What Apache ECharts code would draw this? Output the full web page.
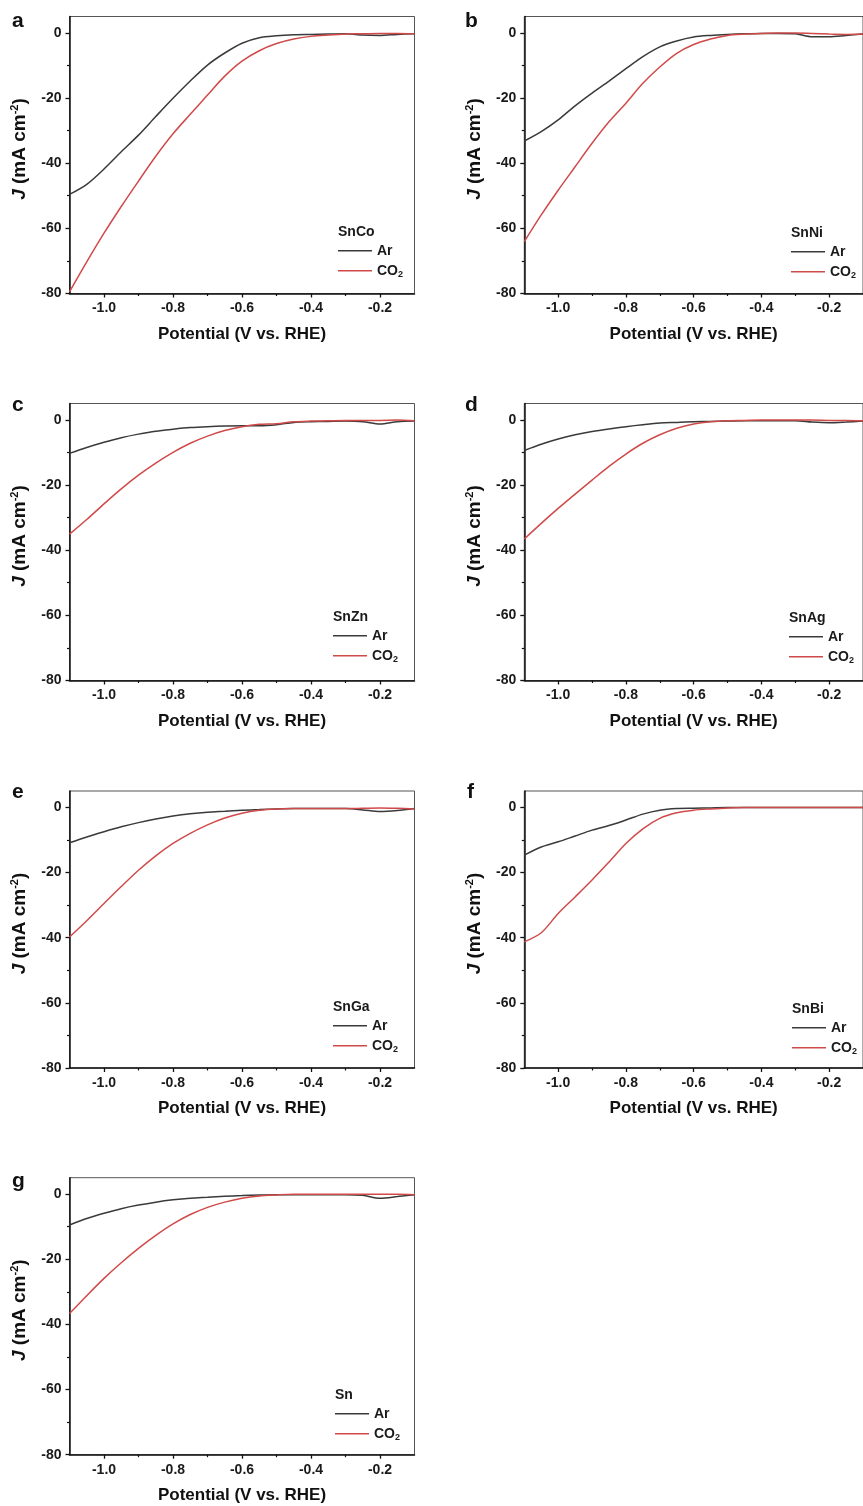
<!DOCTYPE html>
<html><head><meta charset="utf-8">
<script src="https://cdn.jsdelivr.net/npm/echarts@6/dist/echarts.min.js"></script>
<style>html,body{margin:0;padding:0;background:#fff}#c{width:863px;height:1506px}</style>
</head><body><div id="c"></div>
<script>
// ---------- data ----------
const potentials = [-1.10,-1.05,-1.00,-0.95,-0.90,-0.85,-0.80,-0.75,-0.70,-0.65,-0.60,-0.55,-0.50,-0.45,-0.40,-0.35,-0.30,-0.25,-0.20,-0.15,-0.10];
const xMajorTicks = [-1.0,-0.8,-0.6,-0.4,-0.2];
const xMinorTicks = [-0.9,-0.7,-0.5,-0.3];
const yMajorTicks = [-80,-60,-40,-20,0];
const yMinorTicks = [-70,-50,-30,-10];
const panelLetters = ['a','b','c','d','e','f','g'];
const sampleNames = ['SnCo','SnNi','SnZn','SnAg','SnGa','SnBi','Sn'];
const seriesNames = ['Ar','CO2'];

const snCoAr  = [-49.6,-46.5,-41.8,-36.5,-31.4,-25.7,-20.1,-14.8,-9.9,-6.2,-3.2,-1.5,-0.9,-0.6,-0.5,-0.4,-0.3,-0.7,-0.8,-0.5,-0.3];
const snCoCO2 = [-79.5,-70.3,-61.5,-53.3,-45.5,-37.9,-31.0,-25.0,-19.1,-13.3,-8.7,-5.5,-3.3,-1.9,-1.1,-0.7,-0.4,-0.3,-0.2,-0.2,-0.3];
const snNiAr  = [-33.2,-30.3,-26.7,-22.4,-18.5,-14.8,-11.0,-7.3,-4.3,-2.5,-1.3,-0.8,-0.5,-0.3,-0.2,-0.2,-0.3,-1.2,-1.2,-0.8,-0.4];
const snNiCO2 = [-64.1,-55.9,-48.3,-41.1,-33.9,-27.3,-21.6,-15.5,-10.5,-6.3,-3.6,-1.9,-0.8,-0.4,-0.2,-0.1,-0.1,-0.2,-0.4,-0.5,-0.4];
const snZnAr  = [-10.3,-8.5,-6.9,-5.5,-4.4,-3.5,-2.9,-2.4,-2.1,-1.9,-1.8,-1.8,-1.5,-0.8,-0.6,-0.5,-0.4,-0.6,-1.3,-0.6,-0.4];
const snZnCO2 = [-35.1,-30.6,-25.8,-21.2,-17.0,-13.3,-10.0,-7.2,-5.0,-3.3,-2.1,-1.4,-1.2,-0.6,-0.4,-0.3,-0.2,-0.2,-0.2,-0.1,-0.3];
const snAgAr  = [-9.4,-7.5,-5.9,-4.6,-3.6,-2.8,-2.1,-1.5,-1.0,-0.8,-0.6,-0.5,-0.4,-0.3,-0.3,-0.3,-0.3,-0.7,-0.9,-0.7,-0.4];
const snAgCO2 = [-36.6,-31.8,-27.2,-22.8,-18.5,-14.3,-10.5,-7.2,-4.6,-2.6,-1.3,-0.6,-0.3,-0.2,-0.1,-0.1,-0.1,-0.1,-0.2,-0.2,-0.3];
const snGaAr  = [-10.9,-9.1,-7.5,-6.0,-4.7,-3.6,-2.7,-2.0,-1.5,-1.2,-0.9,-0.7,-0.5,-0.4,-0.4,-0.4,-0.4,-0.8,-1.3,-1.0,-0.4];
const snGaCO2 = [-39.8,-34.8,-29.5,-24.3,-19.3,-14.9,-11.1,-8.0,-5.4,-3.3,-1.8,-0.9,-0.5,-0.4,-0.4,-0.4,-0.4,-0.3,-0.2,-0.3,-0.5];
const snBiAr  = [-14.7,-12.2,-10.6,-8.8,-7.0,-5.6,-3.9,-2.1,-0.9,-0.4,-0.3,-0.2,-0.1,-0.1,-0.1,-0.1,-0.1,-0.1,-0.1,-0.1,-0.1];
const snBiCO2 = [-41.3,-38.5,-32.6,-27.5,-22.3,-16.8,-11.1,-6.6,-3.4,-1.7,-0.9,-0.5,-0.2,-0.1,-0.1,-0.1,-0.1,-0.1,-0.1,-0.1,-0.1];
const snAr    = [-9.5,-7.5,-5.9,-4.5,-3.4,-2.5,-1.8,-1.3,-1.0,-0.7,-0.5,-0.3,-0.2,-0.2,-0.2,-0.2,-0.2,-0.4,-1.3,-0.8,-0.2];
const snCO2   = [-36.7,-31.2,-25.9,-21.1,-16.7,-12.7,-9.2,-6.3,-4.1,-2.5,-1.3,-0.6,-0.3,-0.1,-0.1,-0.1,-0.1,-0.1,-0.1,-0.1,-0.2];

const arData  = [snCoAr, snNiAr, snZnAr, snAgAr, snGaAr, snBiAr, snAr];
const co2Data = [snCoCO2, snNiCO2, snZnCO2, snAgCO2, snGaCO2, snBiCO2, snCO2];

// ---------- layout / style ----------
const PW = 345, PH = 277;
const gridPos   = [[69.5,16.5],[524.3,16.5],[69.5,403.5],[524.3,403.5],[69.5,791],[524.3,791],[69.5,1177.7]];
const legendPos = [[338,232],[791,233],[333,617],[789,618],[333,1007],[792,1009],[335,1395]];
const letterPos = [[12,28.3],[465,28.3],[12,412.3],[465,412.3],[12,799],[467,799],[12,1188]];
const FONT = "'Liberation Sans', Arial, sans-serif";
const AR_COLOR = '#3a3a3a', CO2_COLOR = '#d04a4a', AXIS = '#111';

const chart = echarts.init(document.getElementById('c'), null, {renderer:'canvas'});
const option = {backgroundColor:'#fff', animation:false, grid:[], xAxis:[], yAxis:[], series:[], legend:[], graphic:[]};

const lblStyle = {fontSize:14, fontWeight:'bold', color:'#1a1a1a', fontFamily:FONT};

for (let i = 0; i < 7; i++) {
  const [gl, gt] = gridPos[i];
  option.grid.push({left:gl, top:gt, width:PW, height:PH, show:true, borderColor:'#555', borderWidth:1, backgroundColor:'transparent'});
  option.xAxis.push({
    type:'value', gridIndex:i, min:-1.1, max:-0.1, position:'bottom',
    axisLine:{show:true, onZero:false, lineStyle:{color:AXIS, width:1.5}},
    axisTick:{show:true, inside:false, length:4, customValues:xMajorTicks, lineStyle:{color:AXIS, width:1.3}},
    axisLabel:Object.assign({customValues:xMajorTicks, margin:8, formatter:v=>Number(v).toFixed(1)}, lblStyle),
    splitLine:{show:false},
    name:'Potential (V vs. RHE)', nameLocation:'middle', nameGap:32,
    nameTextStyle:{fontSize:17, fontWeight:'bold', color:'#111', fontFamily:FONT}
  });
  option.xAxis.push({
    type:'value', gridIndex:i, min:-1.1, max:-0.1, position:'bottom',
    axisLine:{show:false, onZero:false},
    axisTick:{show:true, inside:false, length:2.5, customValues:xMinorTicks, lineStyle:{color:AXIS, width:1.2}},
    axisLabel:{show:false}, splitLine:{show:false}
  });
  option.yAxis.push({
    type:'value', gridIndex:i, min:-80, max:5, position:'left',
    axisLine:{show:true, onZero:false, lineStyle:{color:AXIS, width:1.5}},
    axisTick:{show:true, inside:false, length:4, customValues:yMajorTicks, lineStyle:{color:AXIS, width:1.3}},
    axisLabel:Object.assign({customValues:yMajorTicks, margin:8}, lblStyle),
    splitLine:{show:false},
    name:'{i|J} (mA cm{sup|-2})', nameLocation:'middle', nameGap:39, nameRotate:90,
    nameTextStyle:{fontSize:19, fontWeight:'bold', color:'#111', fontFamily:FONT, lineHeight:21, padding:[0,0,0,12],
      rich:{i:{fontSize:19, fontWeight:'bold', fontStyle:'italic', color:'#111', fontFamily:FONT, lineHeight:21},
            sup:{fontSize:11, fontWeight:'bold', color:'#111', fontFamily:FONT, verticalAlign:'top', lineHeight:13}}}
  });
  option.yAxis.push({
    type:'value', gridIndex:i, min:-80, max:5, position:'left',
    axisLine:{show:false, onZero:false},
    axisTick:{show:true, inside:false, length:2.5, customValues:yMinorTicks, lineStyle:{color:AXIS, width:1.2}},
    axisLabel:{show:false}, splitLine:{show:false}
  });
  option.series.push({
    type:'line', name:seriesNames[0], xAxisIndex:2*i, yAxisIndex:2*i,
    data:potentials.map((p,k)=>[p, arData[i][k]]),
    showSymbol:false, symbol:'none', smooth:0.3,
    lineStyle:{color:AR_COLOR, width:1.5}, itemStyle:{color:AR_COLOR}
  });
  option.series.push({
    type:'line', name:seriesNames[1], xAxisIndex:2*i, yAxisIndex:2*i,
    data:potentials.map((p,k)=>[p, co2Data[i][k]]),
    showSymbol:false, symbol:'none', smooth:0.3,
    lineStyle:{color:CO2_COLOR, width:1.5}, itemStyle:{color:CO2_COLOR}
  });
  const [lx, ly] = legendPos[i];
  option.legend.push({
    data:seriesNames, orient:'vertical', left:lx, top:ly + 10.7, icon:'rect',
    itemWidth:34, itemHeight:1.6, itemGap:4, padding:0, selectedMode:false,
    formatter:n => n === 'CO2' ? 'CO{sub|2}' : n,
    textStyle:{fontSize:14, fontWeight:'bold', color:'#1a1a1a', fontFamily:FONT, lineHeight:16,
      rich:{sub:{fontSize:9, fontWeight:'bold', color:'#1a1a1a', fontFamily:FONT, verticalAlign:'bottom', lineHeight:12}}}
  });
  option.graphic.push({
    type:'text', x:lx, y:ly, style:{text:sampleNames[i], font:"bold 14px " + FONT, fill:'#1a1a1a', verticalAlign:'middle', align:'left'}
  });
  const [px, py] = letterPos[i];
  option.graphic.push({
    type:'text', x:px, y:py - 7, style:{text:panelLetters[i], font:"bold 21px " + FONT, fill:'#111', verticalAlign:'middle', align:'left'}
  });
}
chart.setOption(option);
</script>
</body></html>
